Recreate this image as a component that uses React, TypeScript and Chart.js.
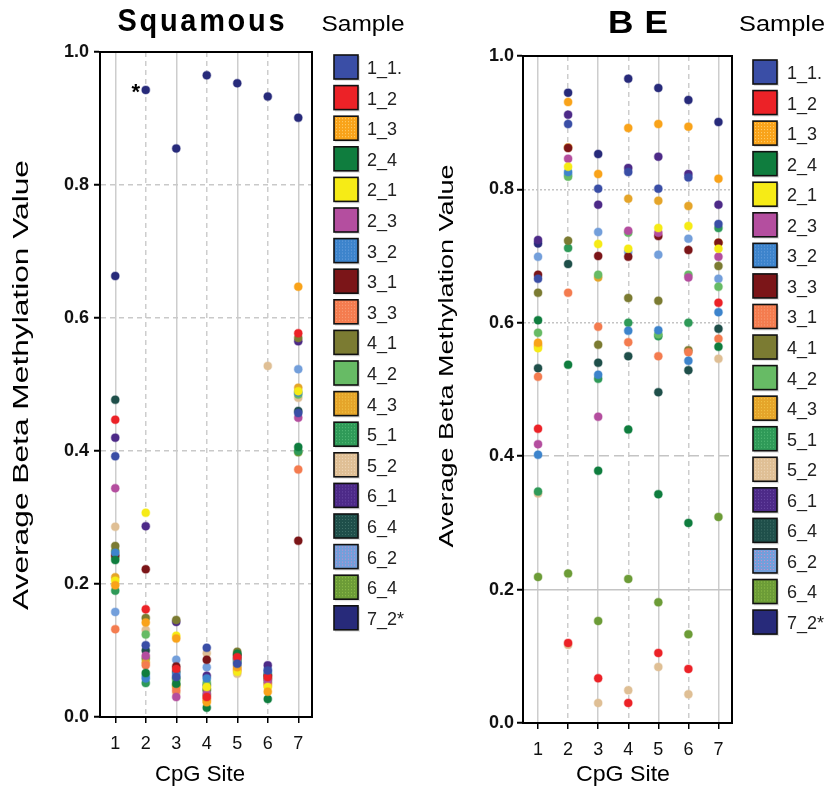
import React, { useEffect, useRef } from "react";
import { Chart, registerables } from "chart.js";

Chart.register(...registerables);

const cpgSites = [1, 2, 3, 4, 5, 6, 7];

const squamousSamples = ["1_1.", "1_2", "1_3", "2_4", "2_1", "2_3", "3_2", "3_1", "3_3", "4_1", "4_2", "4_3", "5_1", "5_2", "6_1", "6_4", "6_2", "6_4", "7_2*"];
const beSamples = ["1_1.", "1_2", "1_3", "2_4", "2_1", "2_3", "3_2", "3_3", "3_1", "4_1", "4_2", "4_3", "5_1", "5_2", "6_1", "6_4", "6_2", "6_4", "7_2*"];

// Squamous: one array per CpG site, values in sample order
const squamousSite1 = [0.392, 0.447, 0.198, 0.236, 0.205, 0.344, 0.247, 0.243, 0.132, 0.257, 0.24, 0.21, 0.19, 0.286, 0.42, 0.477, 0.158, 0.25, 0.663];
const squamousSite2 = [0.108, 0.162, 0.142, 0.066, 0.307, 0.092, 0.058, 0.222, 0.078, 0.149, 0.124, 0.082, 0.051, 0.131, 0.287, 0.1, 0.062, 0.088, 0.943];
const squamousSite3 = [0.06, 0.072, 0.118, 0.05, 0.122, 0.03, 0.064, 0.076, 0.04, 0.146, 0.055, 0.045, 0.058, 0.036, 0.143, 0.068, 0.086, 0.048, 0.855];
const squamousSite4 = [0.104, 0.03, 0.022, 0.014, 0.045, 0.035, 0.058, 0.086, 0.028, 0.042, 0.052, 0.025, 0.04, 0.096, 0.062, 0.048, 0.075, 0.033, 0.965];
const squamousSite5 = [0.08, 0.09, 0.075, 0.095, 0.068, 0.088, 0.078, 0.092, 0.07, 0.098, 0.085, 0.072, 0.087, 0.065, 0.082, 0.094, 0.084, 0.088, 0.953];
const squamousSite6 = [0.07, 0.06, 0.038, 0.027, 0.045, 0.055, 0.068, 0.062, 0.05, 0.058, 0.065, 0.047, 0.052, 0.528, 0.078, 0.063, 0.072, 0.057, 0.933];
const squamousSite7 = [0.457, 0.577, 0.647, 0.406, 0.49, 0.45, 0.488, 0.265, 0.372, 0.57, 0.485, 0.495, 0.4, 0.48, 0.565, 0.46, 0.523, 0.398, 0.901];

// BE: one array per CpG site, values in sample order
const beSite1 = [0.666, 0.441, 0.57, 0.604, 0.562, 0.418, 0.402, 0.672, 0.519, 0.645, 0.585, 0.566, 0.347, 0.344, 0.724, 0.532, 0.699, 0.219, 0.719];
const beSite2 = [0.898, 0.12, 0.931, 0.537, 0.834, 0.846, 0.826, 0.862, 0.645, 0.723, 0.819, 0.863, 0.712, 0.117, 0.912, 0.688, 0.822, 0.224, 0.945];
const beSite3 = [0.801, 0.067, 0.823, 0.378, 0.718, 0.459, 0.522, 0.7, 0.594, 0.567, 0.672, 0.668, 0.516, 0.03, 0.777, 0.54, 0.736, 0.153, 0.853];
const beSite4 = [0.826, 0.03, 0.892, 0.44, 0.711, 0.738, 0.588, 0.699, 0.571, 0.637, 0.735, 0.786, 0.6, 0.049, 0.832, 0.55, 0.706, 0.216, 0.966];
const beSite5 = [0.801, 0.105, 0.898, 0.343, 0.742, 0.735, 0.589, 0.73, 0.55, 0.633, 0.583, 0.783, 0.58, 0.084, 0.849, 0.496, 0.702, 0.181, 0.952];
const beSite6 = [0.818, 0.081, 0.894, 0.3, 0.745, 0.668, 0.543, 0.709, 0.556, 0.559, 0.672, 0.775, 0.6, 0.043, 0.823, 0.529, 0.726, 0.133, 0.934];
const beSite7 = [0.748, 0.63, 0.816, 0.564, 0.711, 0.699, 0.616, 0.72, 0.576, 0.685, 0.654, 0.72, 0.742, 0.546, 0.777, 0.591, 0.666, 0.309, 0.901];

const squamousSites = [squamousSite1, squamousSite2, squamousSite3, squamousSite4, squamousSite5, squamousSite6, squamousSite7];
const beSites = [beSite1, beSite2, beSite3, beSite4, beSite5, beSite6, beSite7];

// the starred point (sample 7_2* at CpG site 2 in the Squamous panel)
const starSampleIndex = 18;
const starSite = 2;

// styles
const sampleColors = ["#3a4ea6", "#ec2227", "#f9a31a", "#0f7d3e", "#f6eb16", "#b44e9f", "#3d84cc", "#7b1518", "#f47c4f", "#7b7b32", "#67bb65", "#e5a52a", "#2f9a58", "#dfbf95", "#4d2a88", "#1f4f4a", "#739fdb", "#6c9c37", "#272a7a"];
const sampleDots = [null, null, "#ffd070", null, null, null, "#6aa0dd", null, "#f8a07a", null, null, "#f3c54a", "#55bb78", "#efd8ba", "#6a4aa5", "#3f6f68", "#c98fc8", "#8fbf4a", null];

const FONT = '"Liberation Sans", Arial, sans-serif';

function hexA(hex: string, a: number) {
  const n = parseInt(hex.slice(1), 16);
  return `rgba(${(n >> 16) & 255},${(n >> 8) & 255},${n & 255},${a})`;
}

function fitted(ctx: CanvasRenderingContext2D, text: string, x: number, y: number, font: string, width: number, opts: any = {}) {
  ctx.save();
  ctx.font = font;
  const sp = opts.spacing || 0;
  (ctx as any).letterSpacing = sp + "px";
  const w = ctx.measureText(text).width - sp;
  ctx.translate(x, y);
  if (opts.rotate) ctx.rotate(-Math.PI / 2);
  ctx.scale(width / w, 1);
  ctx.textAlign = "left";
  ctx.textBaseline = opts.baseline || "alphabetic";
  ctx.fillStyle = "#000";
  ctx.fillText(text, -w / 2, 0);
  ctx.restore();
}

type PanelCfg = {
  labels: string[];
  sites: number[][];
  area: { left: number; right: number; top: number; bottom: number };
  yDash: (v: number) => number[];
  yGridColor: (v: number) => string;
  yTickPad: number;
  title: { text: string; x: number; y: number; w: number; spacing: number };
  sample: { x: number; y: number; w: number };
  yTitle: { x: number; y: number; w: number; size: number };
  xTitle: { x: number; y: number; w: number };
  legend: { x: number; top: number; step: number; textX: number };
  star: boolean;
};

const W = 418;
const H = 790;

const leftCfg: PanelCfg = {
  labels: squamousSamples,
  sites: squamousSites,
  area: { left: 100, right: 312, top: 52, bottom: 717 },
  yDash: () => [5, 4],
  yGridColor: () => "#c9c9c9",
  yTickPad: 5,
  title: { text: "Squamous", x: 201, y: 31, w: 167, spacing: 3 },
  sample: { x: 363, y: 31, w: 83 },
  yTitle: { x: 22, y: 385, w: 450, size: 22 },
  xTitle: { x: 200, y: 775, w: 90 },
  legend: { x: 334, top: 55, step: 30.6, textX: 367 },
  star: true,
};

const rightCfg: PanelCfg = {
  labels: beSamples,
  sites: beSites,
  area: { left: 105, right: 314, top: 56, bottom: 723 },
  yDash: (v) => {
    const k = Math.round(v * 10);
    if (k === 8 || k === 6) return [2, 2];
    if (k === 4) return [10, 5];
    return [];
  },
  yGridColor: () => "#c4c4c4",
  yTickPad: 3,
  title: { text: "BE", x: 220, y: 33, w: 60, spacing: 10 },
  sample: { x: 364, y: 31, w: 86 },
  yTitle: { x: 29, y: 356, w: 383, size: 20 },
  xTitle: { x: 205, y: 775, w: 94 },
  legend: { x: 335, top: 60, step: 30.56, textX: 369 },
  star: false,
};

function makeDecor(cfg: PanelCfg) {
  return {
    id: "decor",
    afterDraw(chart: any) {
      const ctx: CanvasRenderingContext2D = chart.ctx;
      const a = chart.chartArea;
      ctx.save();
      ctx.strokeStyle = "#000";
      ctx.lineWidth = 2;
      ctx.strokeRect(a.left, a.top, a.right - a.left, a.bottom - a.top);

      if (cfg.star) {
        const xs = chart.scales.x;
        const ys = chart.scales.y;
        const px = xs.getPixelForValue(starSite);
        const py = ys.getPixelForValue(cfg.sites[starSite - 1][starSampleIndex]);
        ctx.fillStyle = "#000";
        ctx.font = `bold 22px ${FONT}`;
        ctx.textAlign = "center";
        ctx.textBaseline = "middle";
        ctx.fillText("*", px - 10, py + 3);
      }

      // legend
      chart.data.datasets.forEach((ds: any, i: number) => {
        const bx = cfg.legend.x;
        const by = cfg.legend.top + i * cfg.legend.step;
        const s = 24;
        ctx.fillStyle = "rgba(0,0,0,0.12)";
        ctx.fillRect(bx + 1, by + 1, s + 1, s + 1);
        ctx.fillStyle = ds.backgroundColor;
        ctx.fillRect(bx, by, s, s);
        const dot = sampleDots[i];
        if (dot) {
          ctx.fillStyle = dot;
          for (let dx = 2; dx < s - 1; dx += 3) {
            for (let dy = 2; dy < s - 1; dy += 3) {
              ctx.fillRect(bx + dx, by + dy, 1, 1);
            }
          }
        }
        ctx.strokeStyle = "#111";
        ctx.lineWidth = 1.6;
        ctx.strokeRect(bx, by, s, s);
        ctx.fillStyle = "#222";
        ctx.font = `18px ${FONT}`;
        ctx.textAlign = "left";
        ctx.textBaseline = "middle";
        ctx.fillText(ds.label, cfg.legend.textX, by + s / 2 + 2);
      });
      ctx.restore();

      fitted(ctx, cfg.title.text, cfg.title.x, cfg.title.y, `bold 32px ${FONT}`, cfg.title.w, { spacing: cfg.title.spacing });
      fitted(ctx, "Sample", cfg.sample.x, cfg.sample.y, `22px ${FONT}`, cfg.sample.w);
      fitted(ctx, "Average Beta Methylation Value", cfg.yTitle.x, cfg.yTitle.y, `${cfg.yTitle.size}px ${FONT}`, cfg.yTitle.w, { rotate: true, baseline: "middle" });
      fitted(ctx, "CpG Site", cfg.xTitle.x, cfg.xTitle.y, `22px ${FONT}`, cfg.xTitle.w, { baseline: "middle" });
    },
  };
}

function Panel({ cfg, offset }: { cfg: PanelCfg; offset: number }) {
  const ref = useRef<HTMLCanvasElement>(null);
  useEffect(() => {
    const canvas = ref.current;
    if (!canvas) return;
    const datasets = cfg.labels.map((label, i) => ({
      label,
      data: cpgSites.map((s, k) => ({ x: s, y: cfg.sites[k][i] })),
      backgroundColor: sampleColors[i],
      borderColor: hexA(sampleColors[i], 0.35),
      borderWidth: 1.5,
      pointRadius: 4,
      showLine: false,
    }));
    const chart = new Chart(canvas, {
      type: "scatter",
      data: { datasets },
      plugins: [makeDecor(cfg)],
      options: {
        animation: false,
        responsive: false,
        events: [],
        layout: {
          padding: { top: cfg.area.top, right: W - cfg.area.right, left: 0, bottom: 0 },
        },
        plugins: { legend: { display: false }, tooltip: { enabled: false }, title: { display: false } },
        scales: {
          x: {
            type: "linear",
            min: 0.5,
            max: 7.45,
            afterBuildTicks: (axis: any) => {
              axis.ticks = cpgSites.map((v) => ({ value: v }));
            },
            afterFit: (s: any) => {
              s.height = H - cfg.area.bottom;
            },
            ticks: {
              callback: (v: any) => String(v),
              color: "#111",
              padding: 10,
              font: { family: FONT, size: 18 },
              maxRotation: 0,
              autoSkip: false,
            },
            grid: {
              color: "#cdcdcd",
              lineWidth: 1.5,
              drawTicks: true,
              tickLength: 6,
              tickColor: "#000",
              tickWidth: 1.5,
            },
            border: {
              display: true,
              color: "#000",
              width: 2,
              dash: (c: any) => (c.tick && Math.round(c.tick.value) % 2 === 0 ? [5, 4] : []),
            },
          },
          y: {
            type: "linear",
            min: 0,
            max: 1,
            afterFit: (s: any) => {
              s.width = cfg.area.left;
            },
            ticks: {
              stepSize: 0.2,
              callback: (v: any) => Number(v).toFixed(1),
              color: "#111",
              padding: cfg.yTickPad,
              font: { family: FONT, size: 18, weight: "bold" },
            },
            grid: {
              color: (c: any) => cfg.yGridColor(c.tick ? c.tick.value : 0),
              lineWidth: 1.5,
              drawTicks: true,
              tickLength: 6,
              tickColor: "#000",
              tickWidth: 2,
            },
            border: {
              display: true,
              color: "#000",
              width: 2,
              dash: (c: any) => cfg.yDash(c.tick ? c.tick.value : 0),
            },
          },
        },
      } as any,
    });
    return () => chart.destroy();
  }, [cfg]);
  return (
    <canvas
      ref={ref}
      width={W}
      height={H}
      style={{ position: "absolute", left: offset, top: 0, width: W, height: H }}
    />
  );
}

export default function App() {
  return (
    <div style={{ position: "absolute", left: 0, top: 0, width: 836, height: 790, background: "#fff" }}>
      <Panel cfg={leftCfg} offset={0} />
      <Panel cfg={rightCfg} offset={418} />
    </div>
  );
}
